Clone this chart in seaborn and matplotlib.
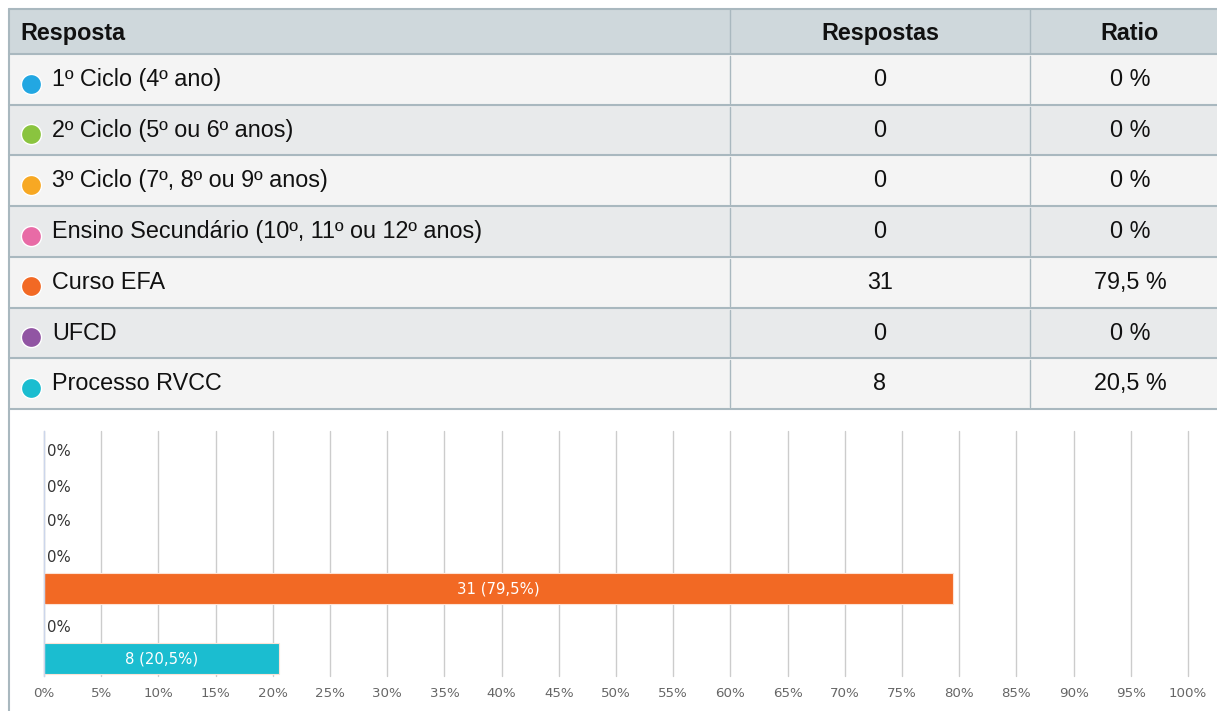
import matplotlib
matplotlib.use('Agg')
import matplotlib.pyplot as plt
from matplotlib.patches import Rectangle
import seaborn as sns

# dados da pergunta
categorias = ['1º Ciclo (4º ano)', '2º Ciclo (5º ou 6º anos)', '3º Ciclo (7º, 8º ou 9º anos)',
              'Ensino Secundário (10º, 11º ou 12º anos)', 'Curso EFA', 'UFCD', 'Processo RVCC']
respostas = [0, 0, 0, 0, 31, 0, 8]
ratio = [0, 0, 0, 0, 79.5, 0, 20.5]
cores = ['#22a7e2', '#8ac43f', '#f7a823', '#e86ba6', '#f26924', '#9155a3', '#1bbdd0']
ticks_x = list(range(0, 101, 5))

sns.set_style('white')
plt.rcParams['font.family'] = ['Liberation Sans', 'DejaVu Sans']

W, H = 1217, 711
fig = plt.figure(figsize=(W / 100, H / 100), dpi=100)

# --- tabela (coordenadas em pixels) ---
tab = fig.add_axes([0, 0, 1, 1])
tab.set_xlim(0, W)
tab.set_ylim(H, 0)
tab.axis('off')

borda = '#a9b8bf'
x0, x1, x2, x3 = 9, 730, 1030, 1240
y_head, y_top = 9, 54
alt = 50.7
fs = 16.8

tab.add_patch(Rectangle((x0, y_head), x3 - x0, y_top - y_head, facecolor='#cfd8dc', edgecolor='none'))
yh = 40  # linha de base do cabeçalho
tab.text(20, yh, 'Resposta', fontsize=fs, fontweight='bold', va='baseline', color='#111')
tab.text((x1 + x2) / 2, yh, 'Respostas', fontsize=fs, fontweight='bold',
         va='baseline', ha='center', color='#111')
tab.text((x2 + x3) / 2 - 5, yh, 'Ratio', fontsize=fs, fontweight='bold',
         va='baseline', ha='center', color='#111')

for i, (cat, n, r, c) in enumerate(zip(categorias, respostas, ratio, cores)):
    ya = y_top + i * alt
    fundo = '#f4f4f4' if i % 2 == 0 else '#e8eaeb'
    tab.add_patch(Rectangle((x0, ya), x3 - x0, alt, facecolor=fundo, edgecolor='none'))
    yb = ya + 32
    tab.plot([31], [ya + 29.5], 'o', ms=14.5, color=c, mec='white', mew=1)
    tab.text(52, yb, cat, fontsize=fs, va='baseline', color='#111')
    tab.text((x1 + x2) / 2, yb, str(n), fontsize=fs, va='baseline', ha='center', color='#111')
    txt = ('%g' % r).replace('.', ',') + ' %'
    tab.text((x2 + x3) / 2 - 5, yb, txt, fontsize=fs, va='baseline', ha='center', color='#111')
    tab.plot([x0, x3], [ya, ya], color=borda, lw=1.5)
    tab.plot([x1, x1], [ya + 2, ya + alt - 2], color=borda, lw=1)
    tab.plot([x2, x2], [ya + 2, ya + alt - 2], color=borda, lw=1)

y_fim = y_top + len(categorias) * alt
tab.plot([x0, x3], [y_head, y_head], color=borda, lw=1.5)
tab.plot([x0, x3], [y_fim, y_fim], color=borda, lw=1.5)
tab.plot([x0, x0], [y_head, H], color=borda, lw=1.5)
tab.plot([x1, x1], [y_head, y_top], color=borda, lw=1)
tab.plot([x2, x2], [y_head, y_top], color=borda, lw=1)

# --- gráfico de barras ---
px_l, px_r, px_t, px_b = 44, 1188, 431, 676
ax = fig.add_axes([px_l / W, (H - px_b) / H, (px_r - px_l) / W, (px_b - px_t) / H])
sns.barplot(x=ratio, y=categorias, hue=categorias, palette=cores, legend=False, saturation=1,
            orient='h', width=0.9, edgecolor='#fde3d6', linewidth=0.8, ax=ax)
ax.set_xlim(0, 100)
ax.set_ylim(len(categorias) - 0.5, -0.5)
ax.set_xticks(ticks_x)
ax.set_xticklabels([f'{t}%' for t in ticks_x], family='DejaVu Sans', fontsize=9.6, color='#666')
ax.set_yticks([])
ax.set_ylabel('')
ax.grid(axis='x', color='#cccccc', lw=1)
ax.set_axisbelow(True)
for g in ax.get_xgridlines():
    g.set_clip_on(False)
ax.tick_params(axis='x', length=0, pad=8)
for s in ['top', 'right', 'bottom']:
    ax.spines[s].set_visible(False)
ax.spines['left'].set_color('#ccd6eb')
ax.spines['left'].set_linewidth(1)

for i, (n, r) in enumerate(zip(respostas, ratio)):
    if r > 0:
        ax.text(r / 2, i, f"{n} ({('%g' % r).replace('.', ',')}%)", ha='center', va='center',
                color='white', fontsize=10.7, family='DejaVu Sans')
    else:
        ax.text(0.3, i + 0.1, '0%', ha='left', va='center', color='#333', fontsize=10.7,
                family='DejaVu Sans')

fig.savefig('out.png', dpi=100)
